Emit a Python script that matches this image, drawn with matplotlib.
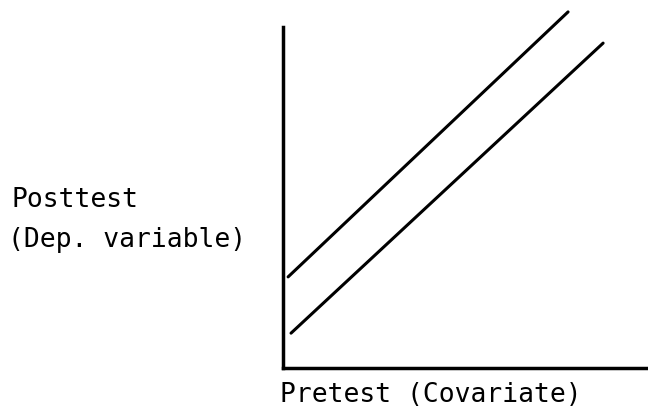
import matplotlib
matplotlib.use('Agg')
import matplotlib.pyplot as plt

# two parallel regression lines (ANCOVA sketch), x = pretest, y = posttest
x_upper = [1.4, 78.1]
y_upper = [25.1, 98.1]
x_lower = [2.2, 87.7]
y_lower = [9.6, 89.5]

y_label = ['Posttest', '(Dep. variable)']
x_label = 'Pretest (Covariate)'

W, H = 648, 413
fig = plt.figure(figsize=(W / 100, H / 100), dpi=100)

# axes box in pixels: left 283, right 648, bottom 368, top 5
ax = fig.add_axes([283 / W, 1 - 368 / H, (648 - 283) / W, (368 - 5) / H])
ax.set_xlim(0, 100)
ax.set_ylim(0, 100)

ax.plot(x_upper, y_upper, color='black', lw=2.2, solid_capstyle='round')
ax.plot(x_lower, y_lower, color='black', lw=2.2, solid_capstyle='round')

for s in ['top', 'right']:
    ax.spines[s].set_visible(False)
ax.spines['left'].set_linewidth(2.5)
ax.spines['bottom'].set_linewidth(2.5)
ax.spines['left'].set_bounds(0, 94)
ax.set_xticks([])
ax.set_yticks([])

font = dict(family='DejaVu Sans Mono', fontsize=19, color='black', va='baseline', ha='left')
fig.text(11 / W, 1 - 207 / H, y_label[0], **font)
fig.text(8 / W, 1 - 247 / H, y_label[1], **font)
fig.text(280 / W, 1 - 402 / H, x_label, **font)

fig.savefig('out.png', dpi=100)
